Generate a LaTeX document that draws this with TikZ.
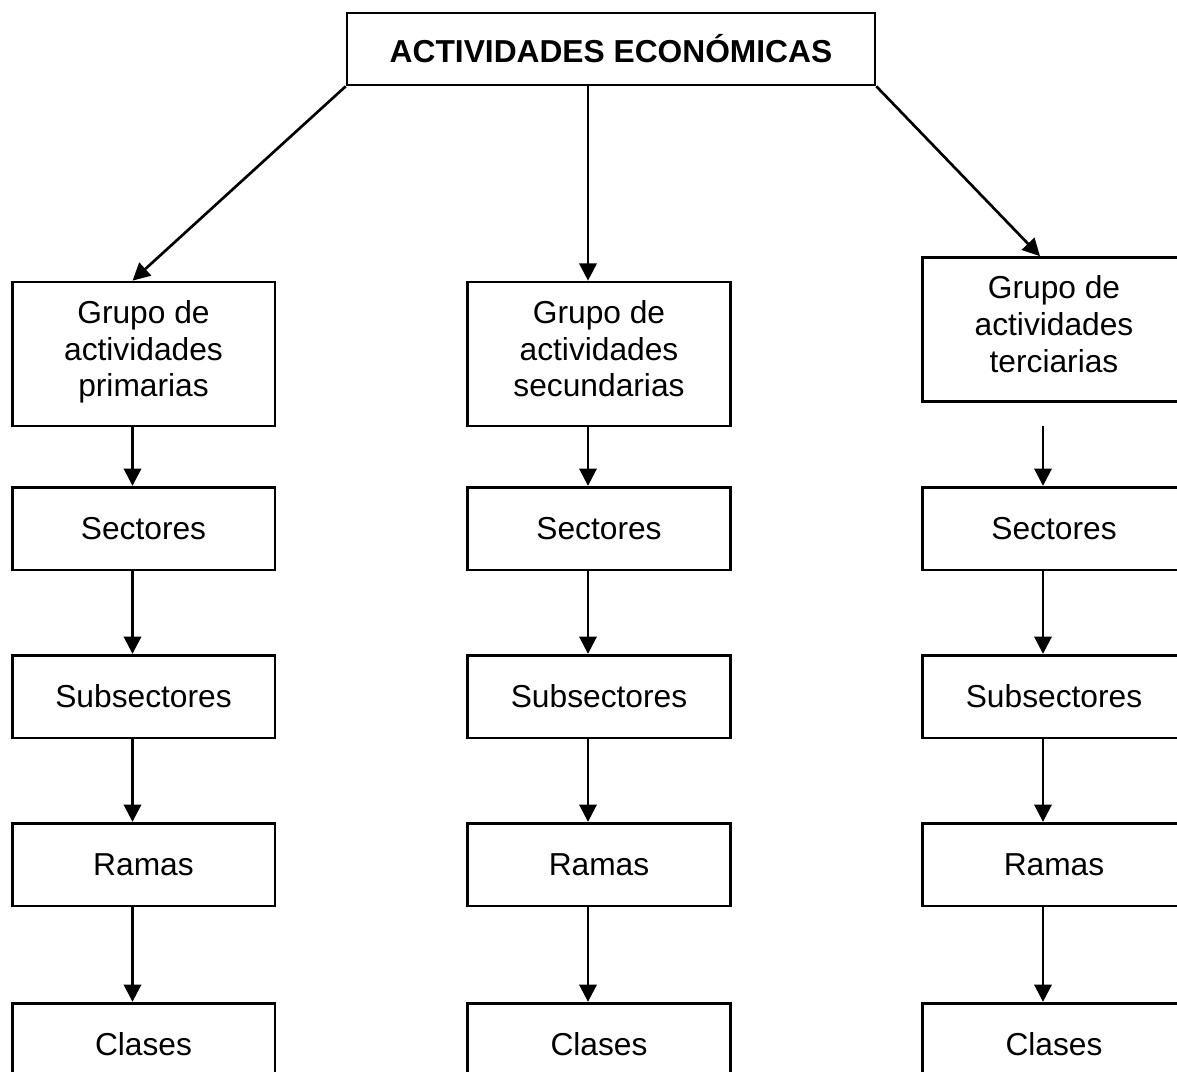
\documentclass[tikz,border=0pt]{standalone}
\usepackage{fontspec}
\setmainfont{Liberation Sans}
\usepackage{tikz}
\usetikzlibrary{arrows.meta,calc}
\tikzstyle{caja} = [draw=black, line width=2pt, minimum width=197pt, minimum height=62pt, inner sep=0pt, align=center, font={\fontsize{23.8}{27.4}\selectfont}]
\tikzstyle{grupo} = [caja, minimum height=108pt]
\tikzstyle{titulo} = [caja, minimum width=396pt, minimum height=54pt, font={\fontsize{23.8}{27.4}\selectfont\bfseries}]
\tikzstyle{flecha} = [line width=2pt, -{Triangle[length=13pt,width=13pt]}]

\begin{document}
\begin{tikzpicture}[x=0.75pt,y=-0.75pt]
        \useasboundingbox (0,0) rectangle (1177,1071);
        \clip (0,0) rectangle (1177,1071);
        \node[titulo](raiz) at (611,49){ACTIVIDADES ECONÓMICAS};
        % primarias
        \node[grupo](g1) at (143.5,354){Grupo de\\actividades\\primarias\strut};
        \node[caja](s1) at (143.5,528.5){Sectores};
        \node[caja](u1) at (143.5,696.5){Subsectores};
        \node[caja](r1) at (143.5,864.5){Ramas};
        \node[caja](c1) at (143.5,1044.5){Clases};
        % secundarias
        \node[grupo](g2) at (599,354){Grupo de\\actividades\\secundarias\strut};
        \node[caja](s2) at (599,528.5){Sectores};
        \node[caja](u2) at (599,696.5){Subsectores};
        \node[caja](r2) at (599,864.5){Ramas};
        \node[caja](c2) at (599,1044.5){Clases};
        % terciarias
        \node[grupo](g3) at (1054,329.5){Grupo de\\actividades\\terciarias\strut};
        \node[caja](s3) at (1054,528.5){Sectores};
        \node[caja](u3) at (1054,696.5){Subsectores};
        \node[caja](r3) at (1054,864.5){Ramas};
        \node[caja](c3) at (1054,1044.5){Clases};
        \draw[flecha](raiz.south west)--($(g1.north)+(-11,0)$);
        \draw[flecha]($(raiz.south)+(-23,0)$)--($(g2.north)+(-11,0)$);
        \draw[flecha](raiz.south east)--($(g3.north)+(-14,0)$);
        \draw[flecha]($(g1.south)+(-11,0)$)--($(s1.north)+(-11,0)$);
        \draw[flecha]($(s1.south)+(-11,0)$)--($(u1.north)+(-11,0)$);
        \draw[flecha]($(u1.south)+(-11,0)$)--($(r1.north)+(-11,0)$);
        \draw[flecha]($(r1.south)+(-11,0)$)--($(c1.north)+(-11,0)$);
        \draw[flecha]($(g2.south)+(-11,0)$)--($(s2.north)+(-11,0)$);
        \draw[flecha]($(s2.south)+(-11,0)$)--($(u2.north)+(-11,0)$);
        \draw[flecha]($(u2.south)+(-11,0)$)--($(r2.north)+(-11,0)$);
        \draw[flecha]($(r2.south)+(-11,0)$)--($(c2.north)+(-11,0)$);
        \draw[flecha]($(g3.south)+(-11,23)$)--($(s3.north)+(-11,0)$);
        \draw[flecha]($(s3.south)+(-11,0)$)--($(u3.north)+(-11,0)$);
        \draw[flecha]($(u3.south)+(-11,0)$)--($(r3.north)+(-11,0)$);
        \draw[flecha]($(r3.south)+(-11,0)$)--($(c3.north)+(-11,0)$);
      \end{tikzpicture}
\end{document}
